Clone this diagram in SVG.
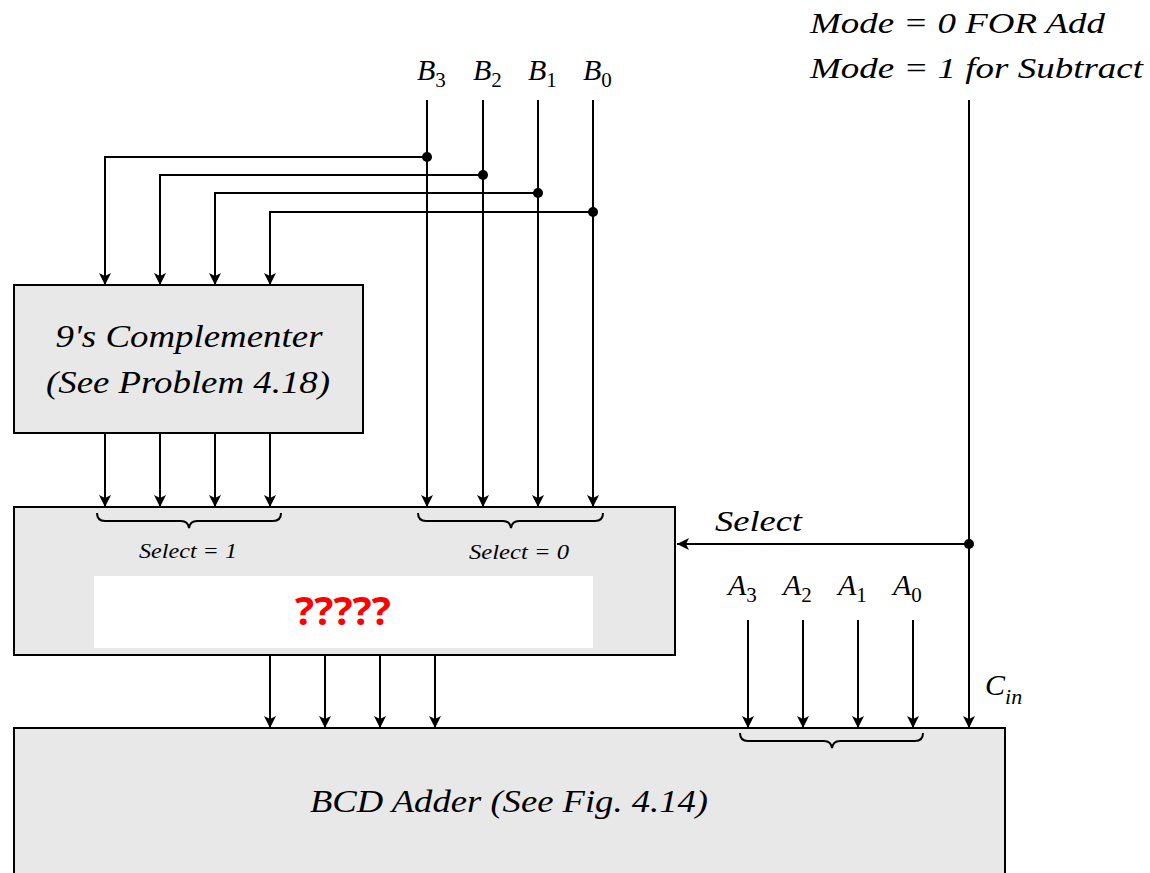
<svg xmlns="http://www.w3.org/2000/svg" width="1150" height="873" viewBox="0 0 1150 873">
<style>
.box{fill:#e8e8e8;stroke:#000;stroke-width:2}
.w{fill:none;stroke:#000;stroke-width:2}
.br{fill:none;stroke:#000;stroke-width:2}
.t{font-style:italic;fill:#000}
.s{font-style:normal}
.dot{fill:#000}
</style>
<defs>
<marker id="ah" markerWidth="12" markerHeight="14" refX="12" refY="7" orient="auto" markerUnits="userSpaceOnUse">
<path d="M0,1 L12,7 L0,13 L3,7 Z" fill="#000"/>
</marker>
</defs>
<g font-family="Liberation Serif, Times New Roman, serif">
<g id="mode-label">
<text class="t" x="810" y="33" font-size="30" textLength="295" lengthAdjust="spacingAndGlyphs">Mode = 0 FOR Add</text>
<text class="t" x="810" y="78" font-size="30" textLength="333" lengthAdjust="spacingAndGlyphs">Mode = 1 for Subtract</text>
</g>
<g id="b-labels" class="t" font-size="30">
<text x="417" y="80">B<tspan class="s" font-size="21" dy="7">3</tspan></text>
<text x="473" y="80">B<tspan class="s" font-size="21" dy="7">2</tspan></text>
<text x="528" y="80">B<tspan class="s" font-size="21" dy="7">1</tspan></text>
<text x="583" y="80">B<tspan class="s" font-size="21" dy="7">0</tspan></text>
</g>
<g id="complementer">
<rect class="box" x="14" y="285" width="349" height="148"/>
<text class="t" x="189" y="347" font-size="31" text-anchor="middle" textLength="267" lengthAdjust="spacingAndGlyphs">9's Complementer</text>
<text class="t" x="188" y="393" font-size="31" text-anchor="middle" textLength="284" lengthAdjust="spacingAndGlyphs">(See Problem 4.18)</text>
</g>
<g id="mux">
<rect class="box" x="14" y="507" width="661" height="148"/>
<path class="br" d="M97,513 Q97,521 105,521 L181,521 Q188,521 189,528 Q190,521 197,521 L273,521 Q281,521 281,513"/>
<path class="br" d="M418,513 Q418,521 426,521 L503,521 Q510,521 511,528 Q512,521 519,521 L595,521 Q603,521 603,513"/>
<text class="t" x="139" y="558" font-size="20" textLength="98" lengthAdjust="spacingAndGlyphs">Select = 1</text>
<text class="t" x="469" y="559" font-size="20" textLength="100" lengthAdjust="spacingAndGlyphs">Select = 0</text>
<rect x="94" y="576" width="499" height="72" fill="#fff"/>
<text x="343" y="625" font-family="'Open Sans','DejaVu Sans',sans-serif" font-weight="bold" font-size="40" fill="#ff0000" text-anchor="middle" textLength="96" lengthAdjust="spacingAndGlyphs">?????</text>
</g>
<g id="adder">
<rect class="box" x="14" y="728" width="991" height="160"/>
<path class="br" d="M740,733 Q740,741 748,741 L824,741 Q831,741 832,748 Q833,741 840,741 L915,741 Q923,741 923,733"/>
<text class="t" x="310" y="812" font-size="32" textLength="398" lengthAdjust="spacingAndGlyphs">BCD Adder (See Fig. 4.14)</text>
</g>
<g id="a-labels" class="t" font-size="30">
<text x="728" y="595">A<tspan class="s" font-size="21" dy="7">3</tspan></text>
<text x="783" y="595">A<tspan class="s" font-size="21" dy="7">2</tspan></text>
<text x="838" y="595">A<tspan class="s" font-size="21" dy="7">1</tspan></text>
<text x="893" y="595">A<tspan class="s" font-size="21" dy="7">0</tspan></text>
</g>
<g id="select-label"><text class="t" x="715" y="531" font-size="30" textLength="87" lengthAdjust="spacingAndGlyphs">Select</text></g>
<g id="cin-label"><text class="t" x="985" y="695" font-size="30">C<tspan font-size="22" dy="9">in</tspan></text></g>
</g>
<g id="connectors">
<path class="w" d="M427,100 V507" marker-end="url(#ah)"/>
<path class="w" d="M483,100 V507" marker-end="url(#ah)"/>
<path class="w" d="M538,100 V507" marker-end="url(#ah)"/>
<path class="w" d="M593,100 V507" marker-end="url(#ah)"/>
<path class="w" d="M427,157 H105 V285" marker-end="url(#ah)"/>
<path class="w" d="M483,175 H160 V285" marker-end="url(#ah)"/>
<path class="w" d="M538,193 H215 V285" marker-end="url(#ah)"/>
<path class="w" d="M593,212 H270 V285" marker-end="url(#ah)"/>
<circle class="dot" cx="427" cy="157" r="5"/>
<circle class="dot" cx="483" cy="175" r="5"/>
<circle class="dot" cx="538" cy="193" r="5"/>
<circle class="dot" cx="593" cy="212" r="5"/>
<path class="w" d="M105,433 V507" marker-end="url(#ah)"/>
<path class="w" d="M160,433 V507" marker-end="url(#ah)"/>
<path class="w" d="M215,433 V507" marker-end="url(#ah)"/>
<path class="w" d="M270,433 V507" marker-end="url(#ah)"/>
<path class="w" d="M270,655 V728" marker-end="url(#ah)"/>
<path class="w" d="M325,655 V728" marker-end="url(#ah)"/>
<path class="w" d="M380,655 V728" marker-end="url(#ah)"/>
<path class="w" d="M435,655 V728" marker-end="url(#ah)"/>
<path class="w" d="M748,620 V728" marker-end="url(#ah)"/>
<path class="w" d="M803,620 V728" marker-end="url(#ah)"/>
<path class="w" d="M858,620 V728" marker-end="url(#ah)"/>
<path class="w" d="M913,620 V728" marker-end="url(#ah)"/>
<path class="w" d="M969,100 V728" marker-end="url(#ah)"/>
<path class="w" d="M969,544 H677" marker-end="url(#ah)"/>
<circle class="dot" cx="969" cy="544" r="5"/>
</g>
</svg>
